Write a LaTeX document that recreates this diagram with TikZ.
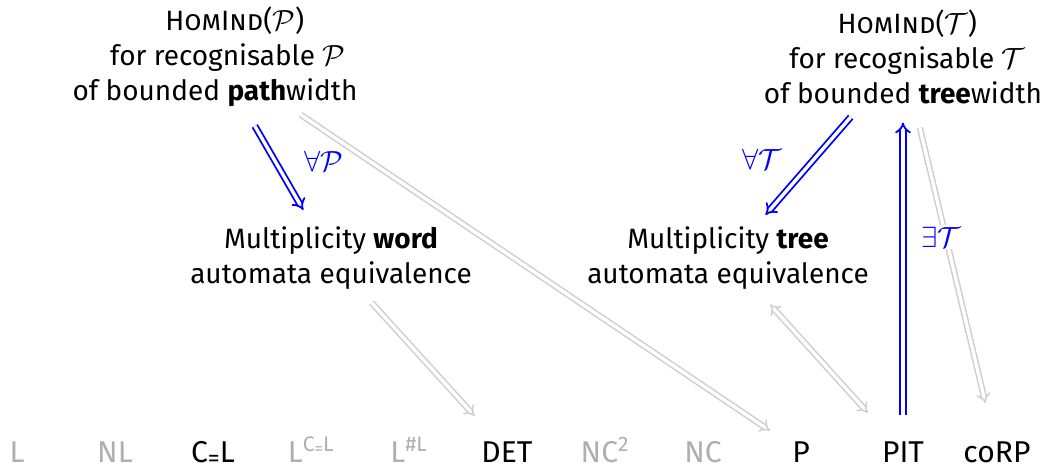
\documentclass[tikz,border=0pt]{standalone}
\usepackage{fontspec}
\setmainfont{Fira Sans}
\usetikzlibrary{arrows.meta,calc}
\definecolor{lightg}{RGB}{206,206,206}
\definecolor{midg}{RGB}{175,175,175}
\definecolor{myblue}{RGB}{0,0,255}
\newcommand{\loweq}{\raisebox{-3pt}{\fontsize{17}{17}\selectfont =}}
\newcommand{\loweqsmall}{\raisebox{-2pt}{\fontsize{12}{12}\selectfont =}}
\begin{document}
\begin{tikzpicture}[x=0.025cm,y=-0.025cm,
  txt/.style={align=center, font=\fontsize{19.9}{24.9}\selectfont, inner sep=0pt},
  cls/.style={anchor=base, font=\fontsize{21.4}{25}\selectfont, inner sep=0pt},
  dim/.style={text=midg},
  blu/.style={draw=myblue, line width=1.3pt, double=white, double distance=2.4pt, -{Implies[scale=1.3]}},
  gry/.style={draw=lightg, line width=1.05pt, double=white, double distance=2.4pt, -{Implies[scale=1.25]}},
  lab/.style={text=myblue, font=\fontsize{20}{24}\selectfont, inner sep=1.5pt, fill=white}]
\useasboundingbox (0,0) rectangle (1041,466);
% main statement nodes
\node[txt] (tl) at (215,57) {\hspace*{28pt}\textsc{HomInd}($\mathcal{P}$)\\\hspace*{18pt}for recognisable $\mathcal{P}$\\of bounded \textbf{path}width};
\node[txt] (tr) at (903,57) {\hspace*{6pt}\textsc{HomInd}($\mathcal{T}$)\\\hspace*{6pt}for recognisable $\mathcal{T}$\\of bounded \textbf{tree}width};
\node[txt] (ml) at (331,258) {Multiplicity \textbf{word}\\automata equivalence};
\node[txt] (mr) at (728,258) {Multiplicity \textbf{tree}\\automata equivalence};
% complexity classes
\node[cls,dim] (nL) at (17,462) {L};
\node[cls,dim] (nNL) at (115,462) {NL};
\node[cls] (nCeqL) at (213,462) {C\loweq L};
\node[cls,dim] (nLCL) at (311,462) {L\textsuperscript{C\loweqsmall L}};
\node[cls,dim] (nLsL) at (409,462) {L\textsuperscript{\#L}};
\node[cls] (nDET) at (507,462) {DET};
\node[cls,dim] (nNCtwo) at (605,462) {NC\textsuperscript{2}};
\node[cls,dim] (nNC) at (703,462) {NC};
\node[cls] (nP) at (801,462) {P};
\node[cls] (nPIT) at (903,462) {PIT};
\node[cls] (ncoRP) at (997,462) {coRP};
% grey implications
\draw[gry] ($(tl)!0.146!(nP)$) -- ($(tl)!0.947!(nP)$);
\draw[gry] ($(tr)!0.179!(ncoRP)$) -- ($(tr)!0.877!(ncoRP)$);
\draw[gry] ($(ml)!0.23!(nDET)$) -- ($(ml)!0.816!(nDET)$);
\draw[gry,{Implies[scale=1.25]}-{Implies[scale=1.25]}] ($(mr)!0.24!(nPIT)$) -- ($(mr)!0.80!(nPIT)$);
% labels
\node[lab] (lP) at (324,161) {$\forall\mathcal{P}$};
\node[lab] (lT) at (762,159) {$\forall\mathcal{T}$};
\node[lab] (eT) at (941,237) {$\exists\mathcal{T}$};
% blue implications
\draw[blu] ($(tl)!0.343!(ml)$) -- ($(tl)!0.761!(ml)$);
\draw[blu] ($(tr)!0.299!(mr)$) -- ($(tr)!0.786!(mr)$);
\draw[blu] ($(nPIT)!0.093!(tr)$) -- ($(nPIT)!0.834!(tr)$);
\end{tikzpicture}
\end{document}
